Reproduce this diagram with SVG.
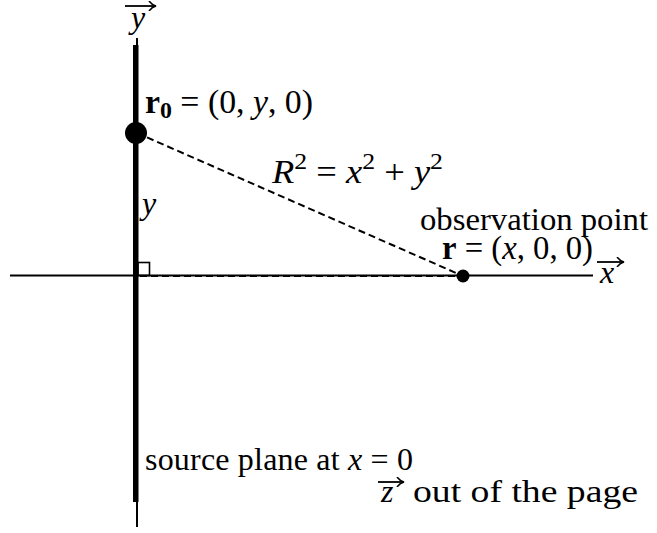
<svg xmlns="http://www.w3.org/2000/svg" width="657" height="533" viewBox="0 0 657 533">
<style>
text{font-family:"Liberation Serif","Times New Roman",serif;font-size:32px;fill:#000}
.m{font-size:34px}
.i{font-style:italic}
.b{font-weight:bold}
.ax{stroke:#000;stroke-width:2;fill:none}
.vec{stroke:#000;stroke-width:1.8;fill:none}
</style>
<defs>
<marker id="ah" markerWidth="10" markerHeight="10" refX="8" refY="5" orient="auto" markerUnits="userSpaceOnUse">
<path d="M2,0 Q5,4 9,5 Q5,6 2,10" fill="none" stroke="#000" stroke-width="1.6"/>
</marker>
</defs>
<rect width="657" height="533" fill="#fff"/>
<g id="axes">
<line class="ax" x1="10" y1="275.5" x2="593" y2="275.5"/>
<line class="ax" x1="137" y1="38" x2="137" y2="527"/>
<rect x="133" y="45" width="5.5" height="457" fill="#000"/>
<rect x="138" y="262.5" width="11.5" height="13" fill="none" stroke="#000" stroke-width="1.6"/>
</g>
<g id="connectors">
<line x1="137" y1="133" x2="463" y2="276" stroke="#000" stroke-width="2" stroke-dasharray="7,4"/>
<line x1="140" y1="276" x2="463" y2="276" stroke="#000" stroke-width="2" stroke-dasharray="7,4"/>
</g>
<g id="source-point">
<circle cx="136" cy="133" r="11" fill="#000"/>
<text class="m" x="145" y="113" textLength="168" lengthAdjust="spacingAndGlyphs"><tspan class="b">r</tspan><tspan class="b" font-size="24" dy="5">0</tspan><tspan dy="-5"> = (0, </tspan><tspan class="i">y</tspan>, 0)</text>
</g>
<g id="observation-point">
<circle cx="463" cy="276" r="6.5" fill="#000"/>
<text x="420" y="230" textLength="228" lengthAdjust="spacingAndGlyphs">observation point</text>
<text class="m" x="442" y="259" textLength="151" lengthAdjust="spacingAndGlyphs"><tspan class="b">r</tspan> = (<tspan class="i">x</tspan>, 0, 0)</text>
</g>
<g id="distance-label">
<text class="m" x="272" y="183" textLength="171" lengthAdjust="spacingAndGlyphs"><tspan class="i">R</tspan><tspan font-size="24" dy="-14">2</tspan><tspan dy="14"> = </tspan><tspan class="i">x</tspan><tspan font-size="24" dy="-14">2</tspan><tspan dy="14"> + </tspan><tspan class="i">y</tspan><tspan font-size="24" dy="-14">2</tspan></text>
</g>
<g id="y-label">
<text class="i" x="142" y="214">y</text>
</g>
<g id="y-axis-label">
<line class="vec" x1="125" y1="6" x2="155" y2="6" marker-end="url(#ah)"/>
<text class="i" x="131" y="28" font-size="30">y</text>
</g>
<g id="x-axis-label">
<line class="vec" x1="597" y1="262" x2="623" y2="262" marker-end="url(#ah)"/>
<text class="i" x="600" y="283">x</text>
</g>
<g id="source-plane-label">
<text x="145" y="470" textLength="268">source plane at <tspan class="i">x</tspan> = 0</text>
</g>
<g id="z-label">
<line class="vec" x1="378" y1="482" x2="403" y2="482" marker-end="url(#ah)"/>
<text class="i" x="381" y="502">z</text>
<text x="413" y="502" textLength="225" lengthAdjust="spacingAndGlyphs">out of the page</text>
</g>
</svg>
